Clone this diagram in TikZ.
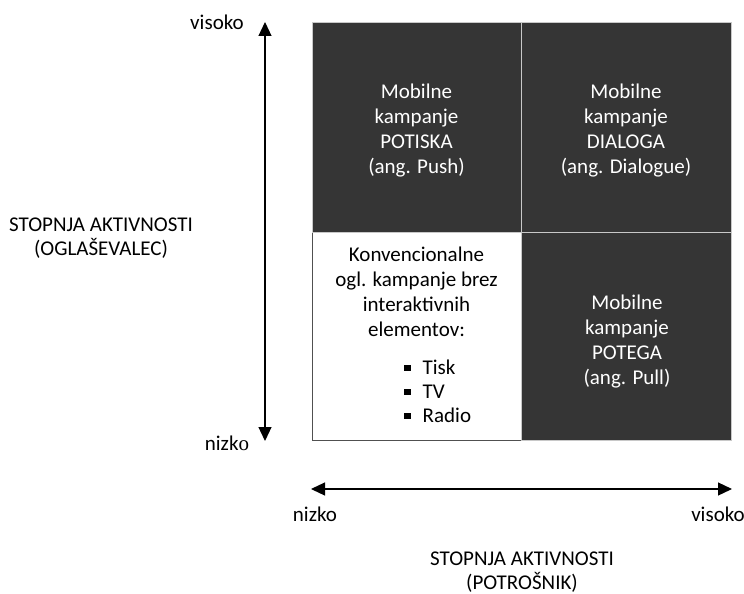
\documentclass[tikz,border=0pt]{standalone}
\usepackage{fontspec}
\setmainfont{Carlito}
\newfontfamily\serifo{Liberation Serif}
\usetikzlibrary{arrows.meta}
\definecolor{cellDark}{HTML}{353535}
\definecolor{cellEdge}{HTML}{C8C8C8}
\definecolor{boxEdge}{HTML}{505050}
\newcommand{\sqbul}{\rule[0.15em]{6.5pt}{6.5pt}}
\tikzset{
  darkcell/.style={fill=cellDark, draw=cellEdge, line width=1pt},
  lightcell/.style={fill=white, draw=boxEdge, line width=1pt},
  celltext/.style={align=center, font=\fontsize{21}{25}\selectfont, inner sep=0pt},
  axislabel/.style={align=center, font=\fontsize{21}{24}\selectfont, inner sep=0pt},
  axis/.style={line width=1.2pt, {Triangle[length=14pt,width=13pt]}-{Triangle[length=14pt,width=13pt]}},
}
\begin{document}
\begin{tikzpicture}[x=1pt,y=-1pt]
\useasboundingbox (0,0) rectangle (744,594);

% quadrants
\draw[lightcell] (312,232) rectangle (521,440);
\draw[darkcell] (312,23) rectangle (521,232);
\draw[darkcell] (521,23) rectangle (731,232);
\draw[darkcell] (521,232) rectangle (731,440);

\node[celltext, text=white] (push) at (416.5,131)
  {Mobilne\\kampanje\\POTISKA\\(ang. Push)};
\node[celltext, text=white] (dialog) at (626,131)
  {Mobilne\\kampanje\\DIALOGA\\(ang. Dialogue)};
\node[celltext, text=white] (pull) at (627,342)
  {Mobilne\\kampanje\\POTEGA\\(ang. Pull)};
\node[celltext, text=black] (conv) at (416.5,292)
  {Konvencionalne\\ogl. kampanje brez\\interaktivnih\\elementov:};
\node[celltext, text=black, align=left, anchor=west, font=\fontsize{21}{24}\selectfont] (media) at (404,391)
  {\sqbul\hspace{12pt}Tisk\\\sqbul\hspace{12pt}TV\\\sqbul\hspace{12pt}Radio};

% vertical axis (advertiser)
\coordinate (vtop) at (265,22);
\coordinate (vbot) at (265,441);
\draw[axis] (vbot) -- (vtop);
\node[axislabel] (vhi) at (217,22) {visoko};
\node[axislabel] (vlo) at (227,443) {nizk{\serifo o}};
\node[axislabel] (vname) at (101,238) {STOPNJA AKTIVNOSTI\\(OGLAŠEVALEC)};

% horizontal axis (consumer)
\coordinate (hleft) at (311,489);
\coordinate (hright) at (732,489);
\draw[axis] (hleft) -- (hright);
\node[axislabel] (hlo) at (315,514) {nizko};
\node[axislabel] (hhi) at (718,514) {visoko};
\node[axislabel] (hname) at (522,572) {STOPNJA AKTIVNOSTI\\(POTROŠNIK)};
\end{tikzpicture}
\end{document}
